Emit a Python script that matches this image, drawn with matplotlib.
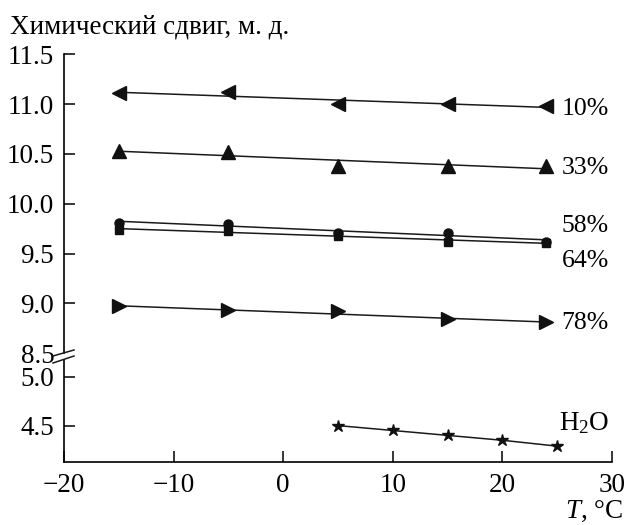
import numpy as np
import matplotlib
matplotlib.use('Agg')
import matplotlib.pyplot as plt
from matplotlib.lines import Line2D

plt.rcParams['font.family'] = ['Liberation Serif', 'DejaVu Serif']
plt.rcParams['mathtext.fontset'] = 'custom'
plt.rcParams['mathtext.rm'] = 'Liberation Serif'
plt.rcParams['mathtext.it'] = 'Liberation Serif:italic'

# temperatures, deg C
temp_pct = [-15, -5, 5, 15, 24]
temp_water = [5, 10, 15, 20, 25]

# chemical shift, ppm
shift_10 = [11.11, 11.12, 11.00, 11.00, 10.98]
shift_33 = [10.53, 10.52, 10.38, 10.38, 10.38]
shift_58 = [9.81, 9.80, 9.71, 9.71, 9.62]
shift_64 = [9.74, 9.73, 9.68, 9.62, 9.61]
shift_78 = [8.97, 8.93, 8.92, 8.84, 8.81]
shift_water = [4.50, 4.45, 4.40, 4.35, 4.29]

series = [
    ('10%', shift_10, '<', 9.5),
    ('33%', shift_33, '^', 9.5),
    ('58%', shift_58, 'o', 6.5),
    ('64%', shift_64, 's', 6),
    ('78%', shift_78, '>', 9.5),
]
label_y = {'10%': 10.95, '33%': 10.36, '58%': 9.78, '64%': 9.43, '78%': 8.80}

W, H = 627, 525
fig = plt.figure(figsize=(W / 100, H / 100), dpi=100)

left = 64 / W
width = (612 - 64) / W
ax_top = fig.add_axes([left, 1 - 353.3 / H, width, (353.3 - 54.3) / H])
ax_bot = fig.add_axes([left, 1 - 462.3 / H, width, (462.3 - 360) / H])

fs = 19.5
for ax in (ax_top, ax_bot):
    ax.set_xlim(-20, 30)
    ax.spines['top'].set_visible(False)
    ax.spines['right'].set_visible(False)
    ax.spines['left'].set_linewidth(1.2)
    ax.spines['bottom'].set_linewidth(1.2)
    ax.tick_params(direction='in', length=8, width=1.1, labelsize=fs, pad=7)
    ax.patch.set_alpha(0)

ax_top.set_ylim(8.5, 11.5)
ax_top.set_yticks([8.5, 9.0, 9.5, 10.0, 10.5, 11.0, 11.5])
ax_top.set_yticklabels(['8.5', '9.0', '9.5', '10.0', '10.5', '11.0', '11.5'])
ax_top.yaxis.get_major_ticks()[0].tick1line.set_visible(False)
ax_top.spines['bottom'].set_visible(False)
ax_top.tick_params(axis='x', bottom=False, labelbottom=False)

ax_bot.set_ylim(4.125, 5.17)
ax_bot.set_yticks([4.5, 5.0])
ax_bot.set_yticklabels(['4.5', '5.0'])
ax_bot.set_xticks([-20, -10, 0, 10, 20, 30])
ax_bot.set_xticklabels(['\u221220', '\u221210', '0', '10', '20', '30'])
ax_bot.tick_params(axis='x', pad=8)

for name, vals, mk, ms in series:
    k, b = np.polyfit(temp_pct, vals, 1)
    xs = np.array([temp_pct[0], temp_pct[-1]])
    ax_top.plot(xs, k * xs + b, color='#1a1a1a', lw=1.1)
    ax_top.plot(temp_pct, vals, ls='none', marker=mk, ms=ms, color='#111111')
    ax_top.text(25.4, label_y[name], name, fontsize=18.5, ha='left', va='center')

ax_bot.plot(temp_water, shift_water, color='#1a1a1a', lw=1.1,
            marker='*', ms=9, mfc='#111111', mec='#111111')
ax_bot.text(25.2, 4.53, 'H$_2$O', fontsize=fs, ha='left', va='center')

# axis break marks
for y0, y1 in [(356, 350), (363, 356)]:
    fig.add_artist(Line2D([53 / W, 74 / W], [1 - y0 / H, 1 - y1 / H],
                          color='#1a1a1a', lw=1.1))

fig.text(10 / W, 1 - 27 / H, 'Химический сдвиг, м. д.', fontsize=fs,
         ha='left', va='center')
fig.text(623 / W, 0.5 / H, '$T$, °C', fontsize=fs, ha='right', va='bottom')

fig.savefig('out.png', dpi=100)
